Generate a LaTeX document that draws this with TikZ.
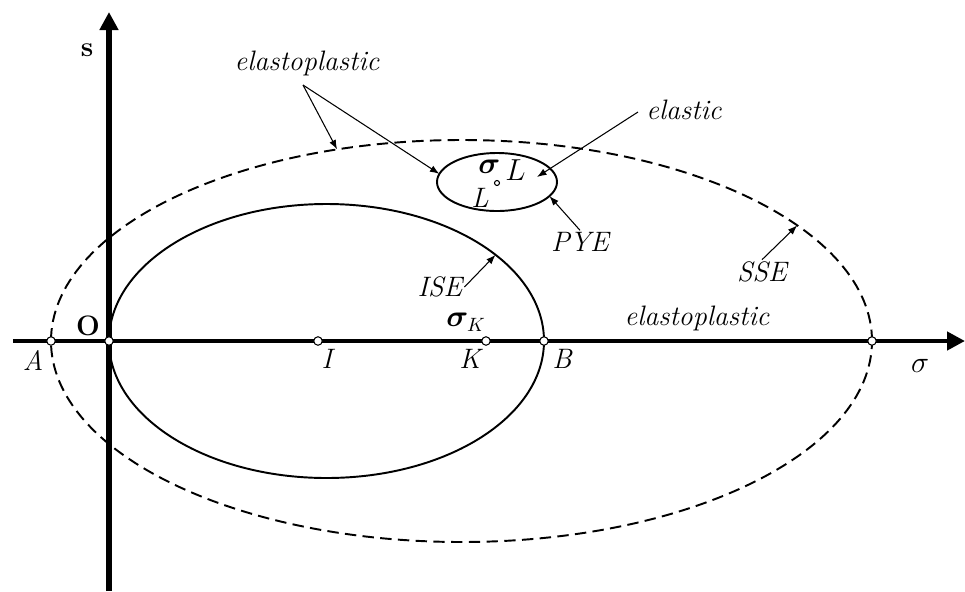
\documentclass[tikz,border=0pt]{standalone}
\usepackage{amsmath, amssymb, bm}
\usepackage{tikz}
\usetikzlibrary{positioning, arrows.meta, calc, shapes.geometric}

\begin{document}
\begin{tikzpicture}[
  every node/.style={font=\fontsize{16}{18}\selectfont\itshape},
  axis/.style = {-{Triangle[length=3.6mm, width=3.6mm]}},
  surf/.style = {ellipse, draw, line width=1.1pt, inner sep=0pt, outer sep=0pt},
  pt/.style   = {circle, draw, fill=white, line width=0.6pt, inner sep=0pt, minimum size=0.17cm},
  lbl/.style  = {inner sep=1pt},
  ptr/.style  = {-{Latex[length=1.9mm, width=1.4mm]}, line width=0.6pt},
]
  \useasboundingbox (-2.18,-5) rectangle (17.12,6.82);

  % surfaces
  \node[surf, dashed, dash pattern=on 6.5pt off 3.6pt,
        minimum width=16.42cm, minimum height=8.04cm] (sse) at (7.05,0) {};
  \node[surf, minimum width=8.7cm, minimum height=5.48cm] (ise) at (4.35,0) {};
  \node[surf, minimum width=2.4cm, minimum height=1.16cm] (pye) at (7.76,3.18) {};

  % axes
  \coordinate (xl) at (-1.92,0);
  \coordinate (xr) at (17.12,0);
  \coordinate (yb) at (0,-5);
  \coordinate (yt) at (0,6.58);
  \draw[axis, line width=2.5pt] (xl) -- (xr);
  \draw[axis, line width=3.3pt] (yb) -- (yt);

  % points
  \node[pt] (A) at (-1.16,0) {};
  \node[pt] (O) at (0,0) {};
  \node[pt] (I) at (4.18,0) {};
  \node[pt] (K) at (7.54,0) {};
  \node[pt] (B) at (8.7,0) {};
  \node[pt] (C) at (15.26,0) {};
  \node[pt, minimum size=0.1cm] (L) at (7.76,3.16) {};

  % labels
  \node[lbl] (s)    at (-0.44,5.82) {\upshape\bfseries s};
  \node[lbl] (Olab) at (-0.42,0.3) {\upshape\bfseries O};
  \node[lbl] (Alab) at (-1.52,-0.38) {A};
  \node[lbl] (Ilab) at (4.36,-0.36) {I};
  \node[lbl] (Klab) at (7.22,-0.36) {K};
  \node[lbl] (Blab) at (9.06,-0.36) {B};
  \node[lbl] (sig)  at (16.22,-0.5) {$\sigma$};
  \node[lbl] (sigK) at (7.14,0.38) {$\bm{\sigma}_{K}$};
  \node[lbl] (sigL) at (7.86,3.42) {$\bm{\sigma}$\raisebox{-0.6ex}{$\,L$}};
  \node[lbl] (Llab) at (7.42,2.86) {L};

  \node[lbl] (ep1) at (3.96,5.56) {elastoplastic};
  \node[lbl] (ep2) at (11.76,0.46) {elastoplastic};
  \node[lbl] (el)  at (11.5,4.62) {elastic};
  \node[lbl] (pyel) at (9.42,1.98) {PYE};
  \node[lbl] (isel) at (6.62,1.08) {ISE};
  \node[lbl] (ssel) at (13.06,1.38) {SSE};

  % pointers
  \coordinate (ep1s) at (3.88,5.12);
  \coordinate (els)  at (10.58,4.58);
  \coordinate (elt)  at (8.56,3.28);
  \draw[ptr] (ep1s) -- (sse.123.6);
  \draw[ptr] (ep1s) -- (pye.172);
  \draw[ptr] (els) -- (elt);
  \draw[ptr] (pyel.north) -- (pye.-15);
  \draw[ptr] (isel.east) -- (ise.27);
  \draw[ptr] (ssel.north) -- (sse.19.8);
\end{tikzpicture}
\end{document}
